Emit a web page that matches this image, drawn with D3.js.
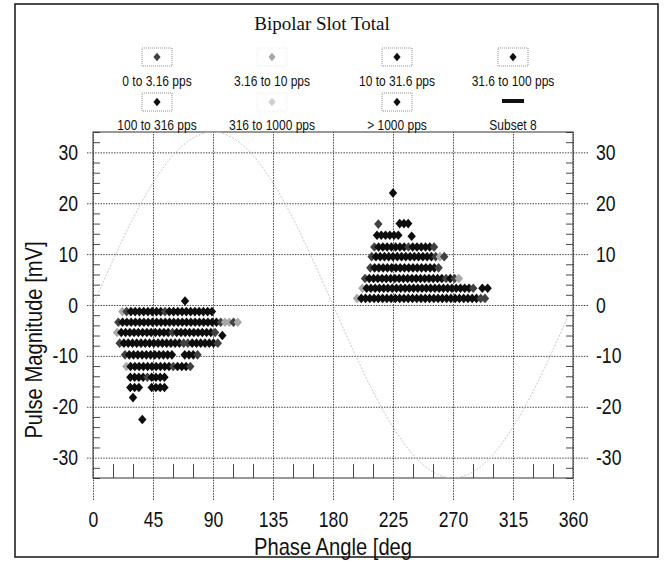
<!DOCTYPE html>
<html>
<head>
<meta charset="utf-8">
<script src="https://cdn.jsdelivr.net/npm/d3@7"></script>
<style>
body { margin: 0; background: #fff; }
svg { display: block; }
.narrow { font-family: "Liberation Sans", Arial, sans-serif; }
</style>
</head>
<body>
<svg id="chart" width="665" height="561"></svg>
<script>
// legend categories (pulse rate classes)
var categories = ["0 to 3.16 pps", "3.16 to 10 pps", "10 to 31.6 pps", "31.6 to 100 pps",
                  "100 to 316 pps", "316 to 1000 pps", "> 1000 pps"];
var subsetLabel = "Subset 8";

var xTicks = [0, 45, 90, 135, 180, 225, 270, 315, 360];
var yTicks = [-30, -20, -10, 0, 10, 20, 30];

// scatter rows: magnitude of the row, phase of first bin, one char per 3.2 deg bin
// (digit = rate class index, '.' = no pulses)
var phaseBin = 3.2;
var rowMagnitudes = [-1.3, -3.4, -5.4, -7.5, -9.8, -12.1, -14.2, -16.2,
                     16.0, 13.7, 11.4, 9.5, 7.3, 5.2, 3.3, 1.3];
var rowStarts = [22, 19, 18, 20, 24, 25, 28, 28,
                 230, 213, 211, 209, 208, 204, 202, 198];
var rowRates = [
  "1044444444044444444444",
  "04444444444444444444444401101",
  "144444444444404444444440",
  "044444444444444004444440",
  "044444444444..4440",
  "1444444444404440",
  "444404444",
  "444..4444",
  "444",
  "444444",
  "044444440444440",
  "044444444444444010",
  "04444444444444440",
  "04444444444444444440401",
  "144444444444444444444444440",
  "1444444444444444444444444444400"
];

// isolated pulses
var outlierPhases = [69, 97, 30, 37, 225, 214, 239, 292, 296];
var outlierMagnitudes = [0.8, -6, -18.2, -22.5, 22, 15.9, 13.5, 3.3, 3.3];
var outlierRates = [4, 4, 4, 4, 4, 0, 4, 4, 4];

// reference sine (Subset 8), read every 15 deg
var refPhases = [0, 15, 30, 45, 60, 75, 90, 105, 120, 135, 150, 165, 180,
                 195, 210, 225, 240, 255, 270, 285, 300, 315, 330, 345, 360];
var refValues = [0, 8.8, 17, 24, 29.4, 32.8, 34, 32.8, 29.4, 24, 17, 8.8, 0,
                 -8.8, -17, -24, -29.4, -32.8, -34, -32.8, -29.4, -24, -17, -8.8, 0];

var shade = d3.scaleOrdinal()
  .domain(d3.range(categories.length))
  .range(["#404040", "#a8a8a8", "#0e0e0e", "#0e0e0e", "#0e0e0e", "#d0d0d0", "#0e0e0e"]);

var svg = d3.select("#chart");

var plot = {left: 93, right: 573, top: 132, bottom: 478};

var x = d3.scaleLinear().domain([0, 360]).range([plot.left, plot.right]);
var y = d3.scaleLinear().domain([-34, 34]).range([plot.bottom, plot.top]);

// squeeze text horizontally, like the condensed font of the original
function squeeze(sel, k) {
  sel.each(function() {
    var w = this.getComputedTextLength();
    if (w > 0) {
      d3.select(this).attr("textLength", w * k).attr("lengthAdjust", "spacingAndGlyphs");
    }
  });
}

// outer border
svg.append("rect")
  .attr("x", 15).attr("y", 4).attr("width", 643).attr("height", 553)
  .attr("fill", "none").attr("stroke", "#222").attr("stroke-width", 1.6);

// title
svg.append("text")
  .attr("x", 322).attr("y", 30)
  .attr("text-anchor", "middle")
  .style("font-family", "'Liberation Serif', 'Times New Roman', serif")
  .style("font-size", "19px")
  .attr("fill", "#111")
  .text("Bipolar Slot Total");

// blur to mimic the scanned print
var defs = svg.append("defs");
defs.append("filter").attr("id", "soft")
  .attr("x", "-5%").attr("y", "-5%").attr("width", "110%").attr("height", "110%")
  .append("feGaussianBlur").attr("stdDeviation", 0.6);
defs.append("clipPath").attr("id", "plotclip")
  .append("rect")
  .attr("x", plot.left).attr("y", plot.top)
  .attr("width", plot.right - plot.left).attr("height", plot.bottom - plot.top);

var fmt = function(d) { return String(d); };

var gridStyle = function(g) {
  g.select(".domain").remove();
  g.selectAll(".tick line")
    .attr("stroke", "#333")
    .attr("stroke-width", 0.9)
    .attr("stroke-dasharray", "1.5,1.2");
  g.selectAll(".tick text")
    .attr("class", "narrow")
    .attr("fill", "#111")
    .style("font-size", "22px")
    .call(squeeze, 0.8);
};

// horizontal grid + left labels
svg.append("g")
  .attr("transform", "translate(87,0)")
  .call(d3.axisLeft(y).tickValues(yTicks).tickSize(-501).tickPadding(9).tickFormat(fmt))
  .call(gridStyle);

// right labels
svg.append("g")
  .attr("transform", "translate(" + plot.right + ",0)")
  .call(d3.axisRight(y).tickValues(yTicks).tickSize(0).tickPadding(23).tickFormat(fmt))
  .call(gridStyle);

// vertical grid + bottom labels
svg.append("g")
  .attr("transform", "translate(0,500)")
  .call(d3.axisBottom(x).tickValues(xTicks).tickSize(-(500 - plot.top)).tickPadding(11).tickFormat(fmt))
  .call(gridStyle);

// minor ticks
var yMinor = d3.range(-34, 35, 2).filter(function(v){ return v % 10 !== 0; });
var xMinor = d3.range(15, 360, 15).filter(function(v){ return v % 45 !== 0; });

var minorStyle = function(g) {
  g.select(".domain").remove();
  g.selectAll(".tick line").attr("stroke", "#333").attr("stroke-width", 0.9);
};

svg.append("g")
  .attr("transform", "translate(" + plot.left + ",0)")
  .call(d3.axisLeft(y).tickValues(yMinor).tickSize(-7).tickFormat(""))
  .call(minorStyle);
svg.append("g")
  .attr("transform", "translate(" + plot.right + ",0)")
  .call(d3.axisRight(y).tickValues(yMinor).tickSize(-7).tickFormat(""))
  .call(minorStyle);
svg.append("g")
  .attr("transform", "translate(0," + plot.bottom + ")")
  .call(d3.axisBottom(x).tickValues(xMinor).tickSize(-14).tickFormat(""))
  .call(minorStyle);

// frame
svg.append("rect")
  .attr("x", plot.left).attr("y", plot.top)
  .attr("width", plot.right - plot.left).attr("height", plot.bottom - plot.top)
  .attr("fill", "none").attr("stroke", "#333").attr("stroke-width", 1);

// reference sine
var line = d3.line()
  .x(function(d, i){ return x(refPhases[i]); })
  .y(function(d){ return y(d); })
  .curve(d3.curveCardinal);

svg.append("path")
  .datum(refValues)
  .attr("clip-path", "url(#plotclip)")
  .attr("d", line)
  .attr("fill", "none")
  .attr("stroke", "#c8c8c8")
  .attr("stroke-width", 1)
  .attr("stroke-dasharray", "2,1.5");

// scatter points
var points = [];
rowRates.forEach(function(str, r) {
  for (var i = 0; i < str.length; i++) {
    if (str[i] === ".") continue;
    points.push({ phase: rowStarts[r] + i * phaseBin, mag: rowMagnitudes[r], rate: +str[i] });
  }
});
outlierPhases.forEach(function(p, i) {
  points.push({ phase: p, mag: outlierMagnitudes[i], rate: outlierRates[i] });
});

var diamond = "M0,-4.8L4.2,0L0,4.8L-4.2,0Z";

svg.append("g")
  .attr("filter", "url(#soft)")
  .selectAll("path")
  .data(points)
  .enter().append("path")
  .attr("d", diamond)
  .attr("transform", function(d){ return "translate(" + x(d.phase) + "," + y(d.mag) + ")"; })
  .attr("fill", function(d){ return shade(d.rate); });

// legend
var legendCols = [157, 272, 397, 513];
var legendRows = [57, 102];
var labelRows = [86, 130];

var legendItems = categories.map(function(c, i){ return { label: c, index: i }; });
legendItems.push({ label: subsetLabel, index: -1 });

var item = svg.append("g").selectAll("g")
  .data(legendItems)
  .enter().append("g");

item.each(function(d, i) {
  var g = d3.select(this);
  var cx = legendCols[i % 4], cy = legendRows[Math.floor(i / 4)];
  if (d.index >= 0) {
    var faint = (d.index === 1 || d.index === 5);
    g.append("rect")
      .attr("x", cx - 15).attr("y", cy - 9).attr("width", 30).attr("height", 18)
      .attr("fill", "none")
      .attr("stroke", faint ? "#e6e6e6" : "#777")
      .attr("stroke-width", 0.8)
      .attr("stroke-dasharray", "1,1");
    g.append("path")
      .attr("d", "M0,-4.2L3.6,0L0,4.2L-3.6,0Z")
      .attr("transform", "translate(" + cx + "," + cy + ")")
      .attr("fill", shade(d.index));
  } else {
    g.append("rect")
      .attr("x", cx - 11).attr("y", cy - 3).attr("width", 22).attr("height", 4)
      .attr("fill", "#111");
  }
  g.append("text")
    .attr("class", "narrow")
    .attr("x", cx).attr("y", labelRows[Math.floor(i / 4)])
    .attr("text-anchor", "middle")
    .style("font-size", "15px")
    .attr("fill", "#111")
    .text(d.label)
    .call(squeeze, 0.8);
});

// axis titles
svg.append("text")
  .attr("class", "narrow")
  .attr("transform", "translate(42,340) rotate(-90)")
  .attr("text-anchor", "middle")
  .style("font-size", "24px")
  .attr("fill", "#111")
  .text("Pulse Magnitude [mV]")
  .call(squeeze, 0.84);

svg.append("text")
  .attr("class", "narrow")
  .attr("x", 333).attr("y", 555)
  .attr("text-anchor", "middle")
  .style("font-size", "24px")
  .attr("fill", "#111")
  .text("Phase Angle [deg")
  .call(squeeze, 0.84);
</script>
</body>
</html>
